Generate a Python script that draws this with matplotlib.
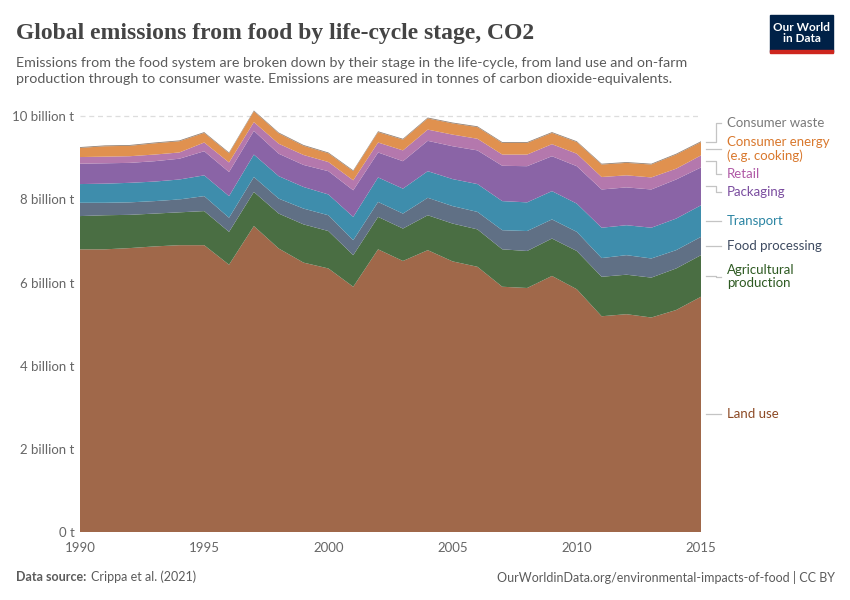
import matplotlib.pyplot as plt
import numpy as np

# Годы и значения (млрд тонн CO2-экв.)
years = np.arange(1990, 2016)

land_use = [6.80, 6.80, 6.83, 6.87, 6.90, 6.90, 6.43, 7.36, 6.82, 6.48, 6.34, 5.90, 6.80,
            6.52, 6.78, 6.51, 6.38, 5.90, 5.87, 6.16, 5.84, 5.19, 5.24, 5.16, 5.34, 5.66]
agri_production = [0.80, 0.82, 0.80, 0.79, 0.79, 0.82, 0.79, 0.82, 0.84, 0.92, 0.90, 0.76, 0.78,
                   0.78, 0.84, 0.91, 0.90, 0.90, 0.89, 0.90, 0.92, 0.95, 0.95, 0.96, 1.00, 1.00]
food_processing = [0.32, 0.30, 0.30, 0.30, 0.31, 0.36, 0.34, 0.36, 0.36, 0.38, 0.38, 0.36, 0.36,
                   0.36, 0.42, 0.42, 0.42, 0.46, 0.48, 0.46, 0.46, 0.45, 0.47, 0.46, 0.44, 0.44]
transport = [0.45, 0.46, 0.47, 0.47, 0.48, 0.50, 0.52, 0.54, 0.54, 0.52, 0.50, 0.56, 0.59,
             0.60, 0.64, 0.65, 0.67, 0.70, 0.69, 0.68, 0.68, 0.73, 0.72, 0.74, 0.76, 0.76]
packaging = [0.49, 0.49, 0.48, 0.49, 0.50, 0.58, 0.58, 0.57, 0.54, 0.53, 0.56, 0.64, 0.60,
             0.66, 0.73, 0.79, 0.81, 0.85, 0.87, 0.84, 0.90, 0.92, 0.91, 0.92, 0.94, 0.91]
retail = [0.16, 0.16, 0.16, 0.16, 0.15, 0.21, 0.23, 0.21, 0.24, 0.24, 0.22, 0.24, 0.24,
          0.26, 0.27, 0.28, 0.28, 0.27, 0.28, 0.29, 0.30, 0.30, 0.29, 0.29, 0.26, 0.29]
consumer_energy = [0.22, 0.25, 0.25, 0.27, 0.27, 0.23, 0.22, 0.26, 0.25, 0.22, 0.21, 0.22, 0.25,
                   0.26, 0.27, 0.27, 0.28, 0.28, 0.28, 0.27, 0.28, 0.30, 0.30, 0.31, 0.34, 0.32]
consumer_waste = [0.02] * 26

series = [land_use, agri_production, food_processing, transport,
          packaging, retail, consumer_energy, consumer_waste]
labels = ['Land use', 'Agricultural\nproduction', 'Food processing', 'Transport',
          'Packaging', 'Retail', 'Consumer energy\n(e.g. cooking)', 'Consumer waste']
fill_colors = ['#a0684a', '#4a6e43', '#607085', '#3e8dac', '#8a64a6', '#b478ad', '#e0914f', '#8f7f73']
text_colors = ['#8d4a25', '#2e5a22', '#3e4b61', '#2c85a3', '#7a4c9f', '#b05aa6', '#d9782d', '#7a7a7a']
# позиции подписей (по оси y, млрд т)
label_y = [2.84, 6.14, 6.88, 7.48, 8.17, 8.61, 9.21, 9.83]

plt.rcParams['font.family'] = ['Lato', 'DejaVu Sans']

fig = plt.figure(figsize=(8.5, 6), dpi=100)
ax = fig.add_axes([80 / 850, 68 / 600, 621 / 850, 424 / 600])

ax.stackplot(years, *series, colors=fill_colors, linewidth=0)

ax.set_xlim(1990, 2015)
ax.set_ylim(0, 10.2)

# Сетка
for v in range(2, 11, 2):
    ax.axhline(v, color='#dddddd', linestyle=(0, (4, 3)), linewidth=0.9, zorder=0)
ax.set_yticks(range(0, 11, 2))
ax.set_yticklabels(['0 t', '2 billion t', '4 billion t', '6 billion t', '8 billion t', '10 billion t'])
ax.set_xticks(range(1990, 2016, 5))
ax.tick_params(axis='y', length=0, pad=4, labelsize=9.5, labelcolor='#666666')
ax.tick_params(axis='x', length=0, pad=7, labelsize=9.5, labelcolor='#666666')
for s in ax.spines.values():
    s.set_visible(False)
ax.set_axisbelow(True)

# Подписи справа с выносками
tops = np.cumsum(np.array(series), axis=0)
bottoms = tops - np.array(series)
x0, x1, x2, xt = 2015.2, 2015.6, 2015.8, 2016.05
for i in range(len(series)):
    mid = (tops[i][-1] + bottoms[i][-1]) / 2
    ly = label_y[i]
    ax.plot([x0, x1, x1, x2], [mid, mid, ly, ly], color='#c4c4c4', linewidth=0.9, clip_on=False)
    ax.text(xt, ly, labels[i], color=text_colors[i], fontsize=9.5, va='center', ha='left',
            linespacing=1.1, clip_on=False)

# Заголовок и подзаголовок
fig.text(16 / 850, 1 - 33 / 600, 'Global emissions from food by life-cycle stage, CO2',
         fontsize=17, color='#444444', family='Liberation Serif', weight='bold', va='center')
fig.text(16 / 850, 1 - 71 / 600,
         'Emissions from the food system are broken down by their stage in the life-cycle, from land use and on-farm\n'
         'production through to consumer waste. Emissions are measured in tonnes of carbon dioxide-equivalents.',
         fontsize=10.3, color='#5b5b5b', va='center', linespacing=1.35)

# Логотип
fig.patches.append(plt.Rectangle((770 / 850, 1 - 52 / 600), 63 / 850, 37 / 600,
                                 transform=fig.transFigure, color='#002147'))
fig.patches.append(plt.Rectangle((770 / 850, 1 - 53 / 600), 63 / 850, 3 / 600,
                                 transform=fig.transFigure, color='#ce261e'))
fig.text(801.5 / 850, 1 - 33 / 600, 'Our World\nin Data', color='white', fontsize=8.5,
         weight='bold', ha='center', va='center', linespacing=1.1)

# Подвал
fig.text(16 / 850, 1 - 577 / 600, 'Data source:', fontsize=9, color='#5b5b5b',
         weight='bold', va='center')
fig.text(91 / 850, 1 - 577 / 600, 'Crippa et al. (2021)', fontsize=9, color='#5b5b5b', va='center')
fig.text(835 / 850, 1 - 577 / 600,
         'OurWorldinData.org/environmental-impacts-of-food | CC BY',
         fontsize=9, color='#5b5b5b', va='center', ha='right')

fig.savefig('out.png', dpi=100)
